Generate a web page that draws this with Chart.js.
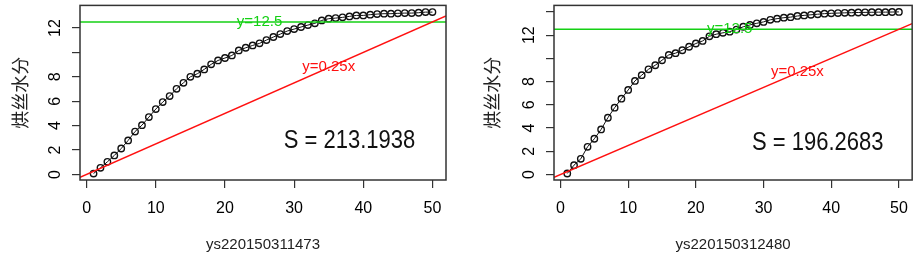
<!DOCTYPE html>
<html><head><meta charset="utf-8">
<script src="https://cdn.jsdelivr.net/npm/chart.js@4.4.0/dist/chart.umd.min.js"></script>
<style>
html,body{margin:0;padding:0;background:#fff;overflow:hidden;}
#c1{position:absolute;left:0;top:0;}
#c2{position:absolute;left:459px;top:0;}
</style></head><body>
<canvas id="c1" width="459" height="255"></canvas>
<canvas id="c2" width="460" height="255"></canvas>
<script>
// ---- data ----
const xValues = [1,2,3,4,5,6,7,8,9,10,11,12,13,14,15,16,17,18,19,20,21,22,23,24,25,26,27,28,29,30,31,32,33,34,35,36,37,38,39,40,41,42,43,44,45,46,47,48,49,50];
const moistureA = [0.08,0.55,1.04,1.56,2.13,2.79,3.52,4.04,4.70,5.36,5.93,6.42,7.02,7.51,8.00,8.25,8.61,9.02,9.34,9.54,9.75,10.16,10.38,10.57,10.74,11.01,11.26,11.50,11.75,11.91,12.08,12.24,12.38,12.62,12.76,12.81,12.87,12.95,13.03,13.03,13.09,13.14,13.17,13.17,13.20,13.22,13.22,13.25,13.30,13.30];
const moistureB = [0.09,0.81,1.35,2.39,3.08,3.88,4.89,5.76,6.53,7.28,8.06,8.55,9.06,9.41,9.84,10.30,10.45,10.70,11.00,11.28,11.50,11.90,12.08,12.20,12.30,12.48,12.72,12.88,13.02,13.14,13.32,13.42,13.50,13.55,13.65,13.70,13.75,13.80,13.85,13.88,13.90,13.92,13.93,13.95,13.96,13.97,13.98,13.98,13.99,14.00];
const xTicks = [0,10,20,30,40,50];
const yTicksA = [0,2,4,6,8,10,12];
const yTickLabelsA = ['0','2','4','6','8','','12'];
const yTicksB = [0,2,4,6,8,10,12,14];
const yTickLabelsB = ['0','2','4','6','8','','12',''];
const sampleA = 'ys220150311473';
const sampleB = 'ys220150312480';
const areaA = 'S = 213.1938';
const areaB = 'S = 196.2683';
const yTitle = '烘丝水分';
const refSlope = 0.25;
const refLevel = 12.5;
const refSlopeLabel = 'y=0.25x';
const refLevelLabel = 'y=12.5';

const GREEN = '#14d014';
const RED = '#ff1010';
const FONT = "'Liberation Sans', Arial, sans-serif";

const decor = {
  id: 'decor',
  afterDatasetsDraw(chart, args, o) {
    const {ctx, chartArea: a, scales: {x, y}} = chart;
    ctx.save();
    ctx.beginPath(); ctx.rect(a.left, a.top, a.right - a.left, a.bottom - a.top); ctx.clip();
    ctx.lineWidth = 1.5;
    ctx.strokeStyle = GREEN;
    const gy = y.getPixelForValue(refLevel);
    ctx.beginPath(); ctx.moveTo(a.left, gy); ctx.lineTo(a.right, gy); ctx.stroke();
    ctx.strokeStyle = RED;
    ctx.beginPath();
    ctx.moveTo(x.getPixelForValue(x.min), y.getPixelForValue(refSlope * x.min));
    ctx.lineTo(x.getPixelForValue(x.max), y.getPixelForValue(refSlope * x.max));
    ctx.stroke();
    ctx.restore();

    ctx.save();
    ctx.textAlign = 'center'; ctx.textBaseline = 'middle';
    ctx.font = '15px ' + FONT;
    ctx.fillStyle = GREEN;
    ctx.fillText(refLevelLabel, x.getPixelForValue(o.levelAt[0]), y.getPixelForValue(o.levelAt[1]));
    ctx.fillStyle = RED;
    ctx.fillText(refSlopeLabel, x.getPixelForValue(o.slopeAt[0]), y.getPixelForValue(o.slopeAt[1]));
    ctx.fillStyle = '#111';
    ctx.font = '25px ' + FONT;
    ctx.translate(x.getPixelForValue(o.areaAt[0]), y.getPixelForValue(o.areaAt[1]));
    ctx.scale(0.88, 1);
    ctx.fillText(o.area, 0, 0);
    ctx.restore();
  },
  afterDraw(chart, args, o) {
    const {ctx, chartArea: a, scales: {y}} = chart;
    ctx.save();
    ctx.strokeStyle = '#333'; ctx.lineWidth = 1.5;
    ctx.strokeRect(a.left, a.top, a.right - a.left, a.bottom - a.top);
    ctx.fillStyle = '#000';
    ctx.font = '16px ' + FONT;
    ctx.textAlign = 'center'; ctx.textBaseline = 'alphabetic';
    o.yTicks.forEach((v, i) => {
      const lab = o.yLabels[i];
      if (!lab) return;
      const py = y.getPixelForValue(v);
      ctx.save();
      ctx.translate(a.left - 20, py);
      ctx.rotate(-Math.PI / 2);
      ctx.fillText(lab, 0, 0);
      ctx.restore();
    });
    ctx.restore();
  }
};

function makeChart(id, values, yTicks, yLabels, yMin, yMax, sample, area, leftW, rightPad, titlePad) {
  return new Chart(document.getElementById(id), {
    type: 'scatter',
    data: {
      datasets: [{
        data: xValues.map((xv, i) => ({x: xv, y: values[i]})),
        showLine: true,
        borderColor: '#111',
        borderWidth: 1,
        pointBorderColor: '#111',
        pointBackgroundColor: 'rgba(0,0,0,0)',
        pointBorderWidth: 1.4,
        pointRadius: 3.2,
        pointStyle: 'circle'
      }]
    },
    options: {
      responsive: false,
      animation: false,
      devicePixelRatio: 1,
      layout: {padding: {top: 5, right: rightPad, left: 0, bottom: 0}},
      plugins: {
        legend: {display: false},
        tooltip: {enabled: false},
        decor: {
          area: area, yTicks: yTicks, yLabels: yLabels,
          levelAt: [25, refLevel], slopeAt: [35, 8.8], areaAt: [38, 2.7]
        }
      },
      scales: {
        x: {
          type: 'linear', min: -0.96, max: 51.96,
          afterBuildTicks: s => { s.ticks = xTicks.map(v => ({value: v})); },
          afterFit: s => { s.height = 75; },
          grid: {drawOnChartArea: false, drawTicks: true, tickLength: 8, color: '#333', lineWidth: 1.2},
          border: {display: false},
          ticks: {color: '#000', font: {size: 16, family: FONT}, padding: 11, maxRotation: 0, minRotation: 0},
          title: {display: true, text: sample, color: '#222', font: {size: 15, family: FONT}, padding: {top: 0, bottom: 1}}
        },
        y: {
          type: 'linear', min: yMin, max: yMax,
          afterBuildTicks: s => { s.ticks = yTicks.map(v => ({value: v})); },
          afterFit: s => { s.width = leftW; },
          grid: {drawOnChartArea: false, drawTicks: true, tickLength: 8, color: '#333', lineWidth: 1.2},
          border: {display: false},
          ticks: {display: false},
          title: {display: true, text: yTitle, color: '#222', font: {size: 18, family: "'Noto Sans CJK SC', 'Noto Sans CJK JP', sans-serif"}, padding: {top: titlePad, bottom: 0}}
        }
      }
    },
    plugins: [decor]
  });
}

makeChart('c1', moistureA, yTicksA, yTickLabelsA, -0.45, 13.85, sampleA, areaA, 80, 13, 9);
makeChart('c2', moistureB, yTicksB, yTickLabelsB, -0.47, 14.56, sampleB, areaB, 95, 1, 22);
</script>
</body></html>
